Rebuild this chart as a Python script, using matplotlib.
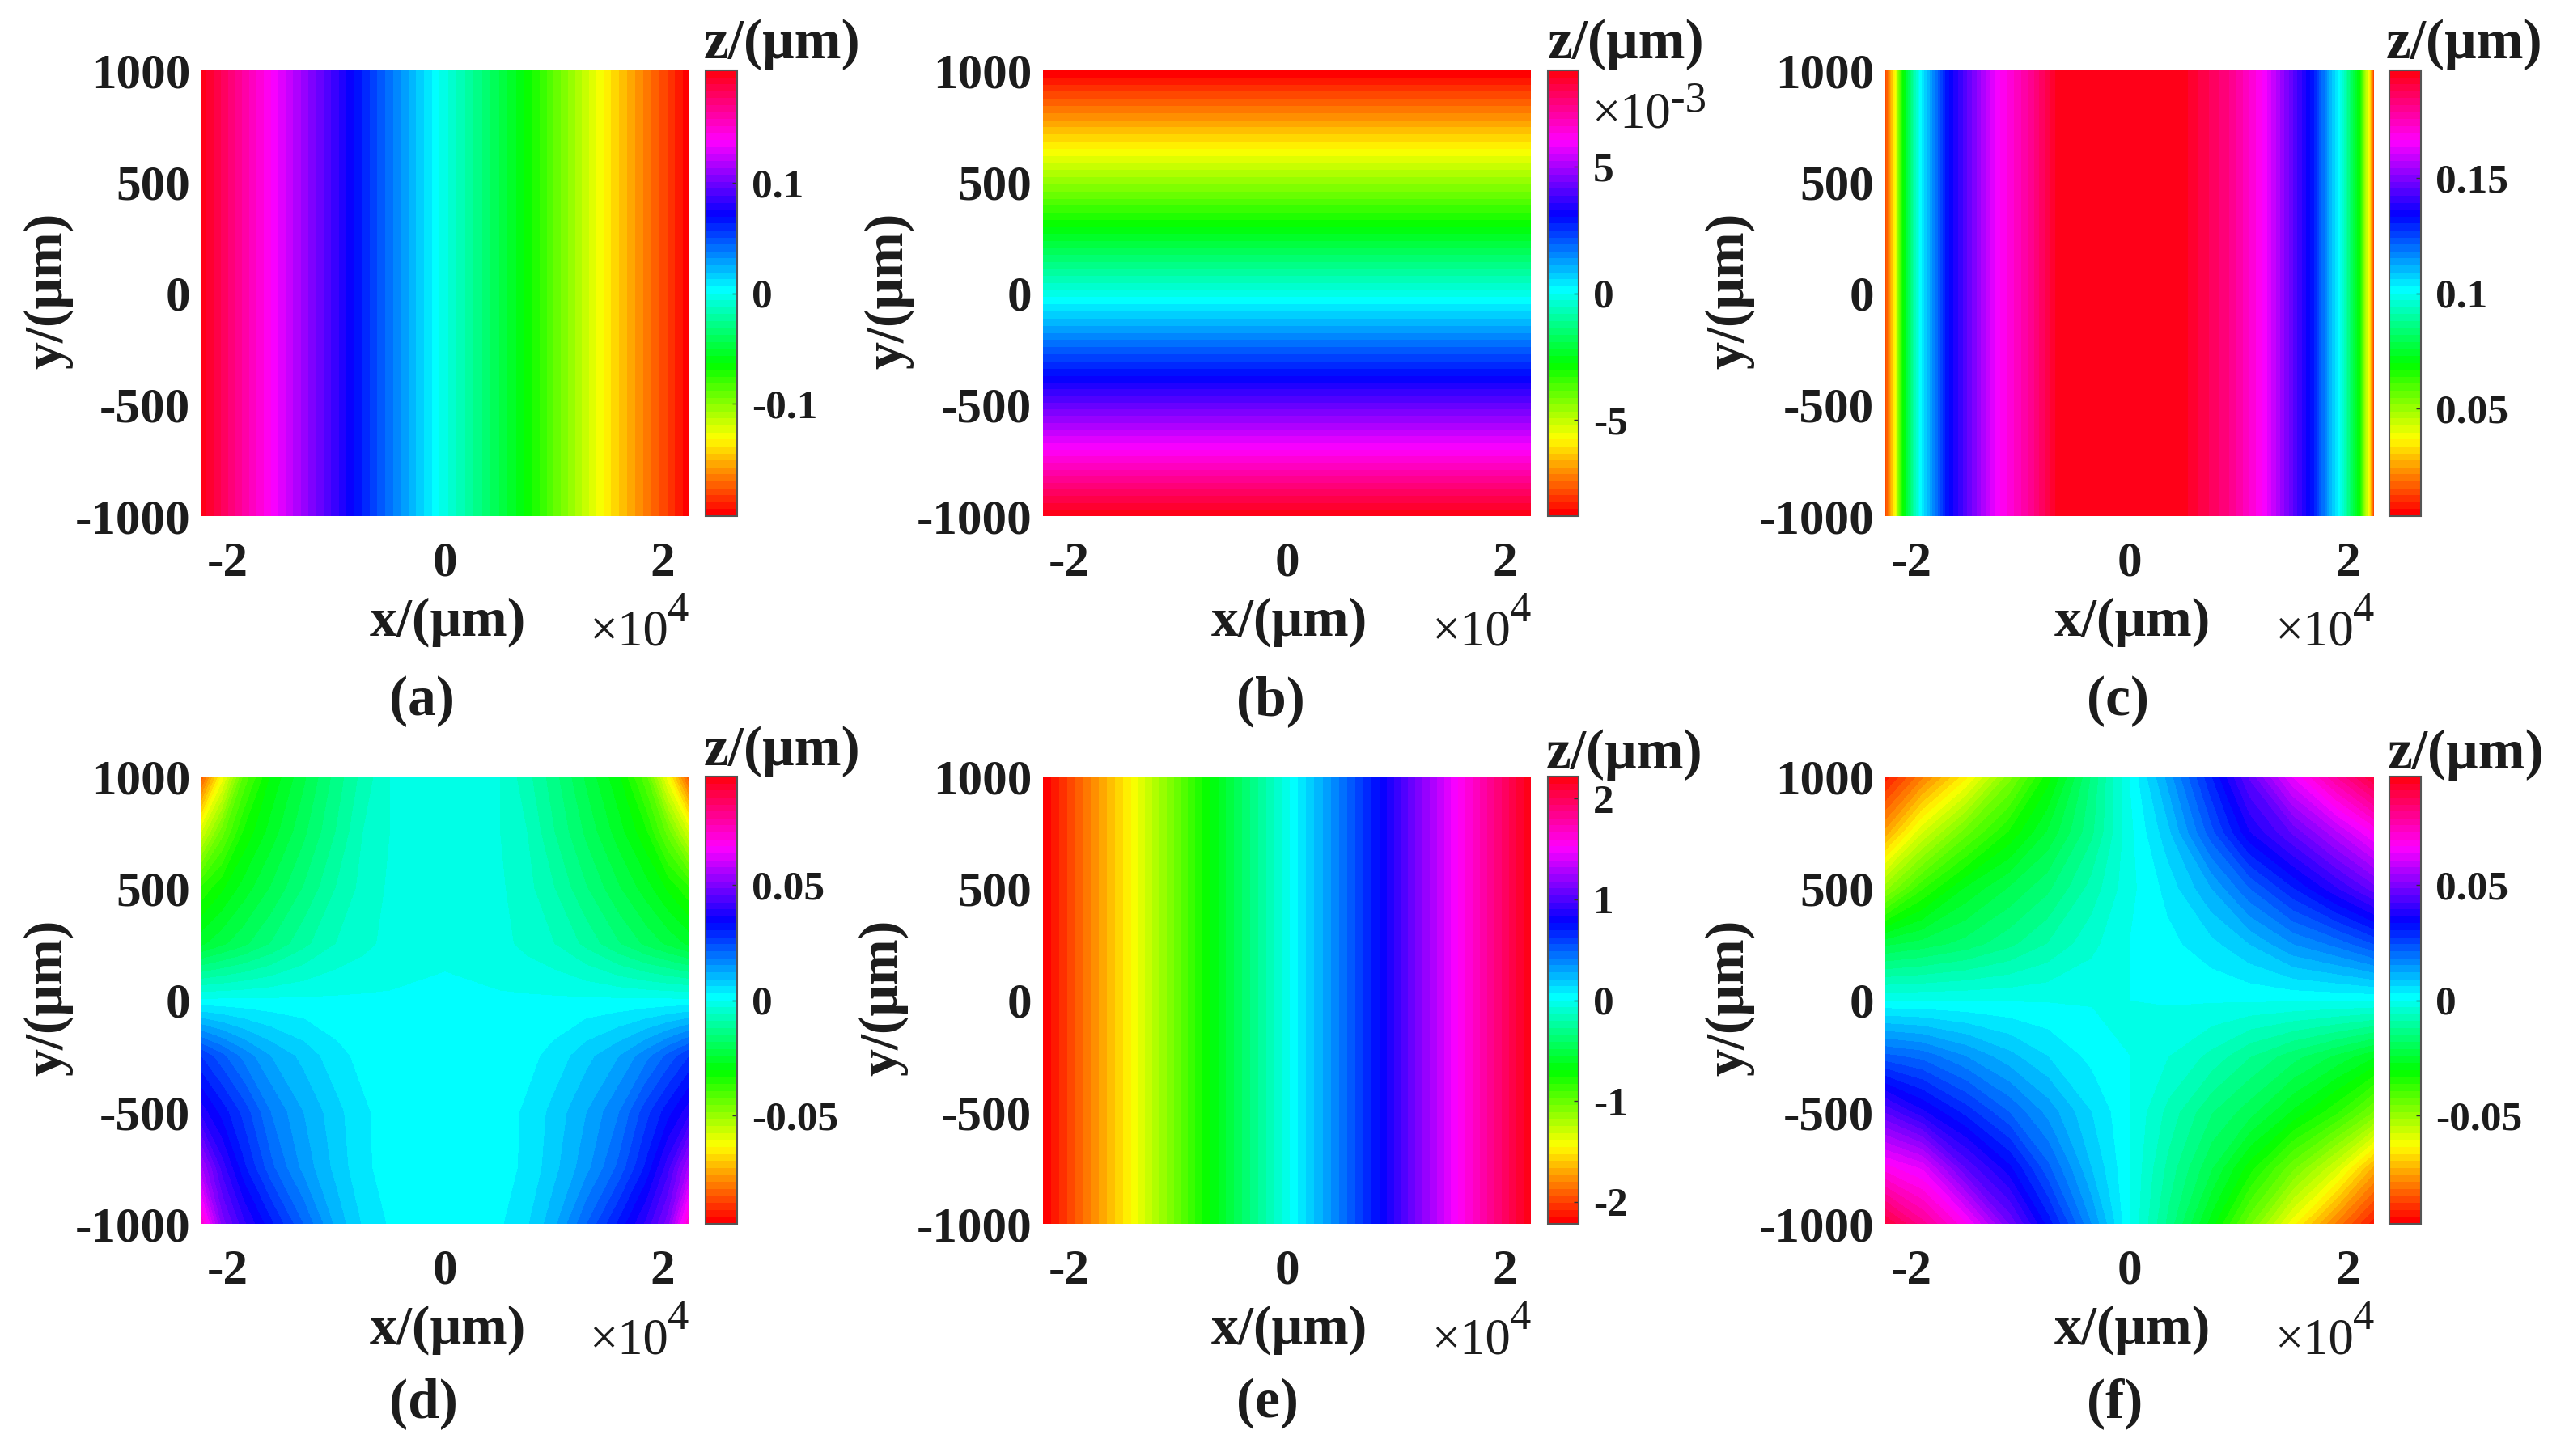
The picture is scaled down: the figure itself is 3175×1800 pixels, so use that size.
#!/usr/bin/env python
import matplotlib
matplotlib.use('Agg')
import matplotlib.pyplot as plt
import numpy as np

plt.rcParams['font.family'] = ['Liberation Serif', 'DejaVu Serif']
plt.rcParams['axes.unicode_minus'] = False

W, H = 3175, 1800
INK = '#1c1c1c'

xa = [-22400, -15400, -8100, -500, 7800, 14600, 22400]
za = [0.2, 0.133, 0.067, 0.0, -0.067, -0.133, -0.2]

yb = [-1000, -683, -360, -17, 317, 660, 1000]
zb = [8.8, 5.87, 2.93, 0.0, -2.93, -5.87, -8.8]

xc = [-22400, -21570, -20800, -19300, -16750, -12180, -8900, -6850, 0,
      5330, 9400, 12440, 16750, 19300, 21070, 21980, 22400]
zc = [0.0127, 0.035, 0.068, 0.1, 0.132, 0.165, 0.181, 0.194, 0.197,
      0.194, 0.181, 0.165, 0.132, 0.1, 0.068, 0.035, 0.0127]

xe = [-22400, -14550, -7530, 260, 8300, 15300, 22400]
ze = [-2.22, -1.48, -0.74, 0.0, 0.74, 1.48, 2.22]

ygrid = [1000, 750, 500, 250, 0, -250, -500, -750, -1000]

xd = [-22400, -20500, -18500, -16000, -13000, -10000, -7500, -5000, 0,
      5000, 7500, 10000, 13000, 16000, 18500, 20500, 22400]
zd_left = [
    [-0.085, -0.063, -0.042, -0.030, -0.022, -0.014, -0.008, -0.003, -0.001],
    [-0.058, -0.044, -0.033, -0.026, -0.019, -0.012, -0.006, -0.003, -0.001],
    [-0.036, -0.031, -0.026, -0.021, -0.015, -0.009, -0.005, -0.0025, -0.001],
    [-0.025, -0.022, -0.019, -0.015, -0.010, -0.006, -0.004, -0.002, -0.001],
    [0.0005, 0.0005, 0.0005, 0.0005, 0.0005, 0.0005, 0.0005, 0.0004, 0.001],
    [0.027, 0.022, 0.017, 0.012, 0.008, 0.004, 0.002, 0.001, 0.0005],
    [0.038, 0.032, 0.026, 0.018, 0.012, 0.007, 0.0035, 0.0015, 0.0005],
    [0.055, 0.041, 0.031, 0.022, 0.014, 0.008, 0.0035, 0.002, 0.0005],
    [0.072, 0.050, 0.040, 0.031, 0.021, 0.011, 0.0055, 0.0025, 0.0005],
]

xf = [-22400, -19000, -15000, -11000, -7500, -3500, 0,
      3500, 7500, 11000, 15000, 19000, 22400]
zf = [
    [-0.093, -0.080, -0.065, -0.047, -0.032, -0.015, 0.000, 0.013, 0.030, 0.046, 0.064, 0.079, 0.091],
    [-0.075, -0.058, -0.044, -0.033, -0.024, -0.013, -0.001, 0.008, 0.023, 0.036, 0.046, 0.057, 0.067],
    [-0.050, -0.037, -0.027, -0.021, -0.016, -0.008, -0.001, 0.004, 0.012, 0.021, 0.030, 0.039, 0.047],
    [-0.022, -0.020, -0.017, -0.013, -0.009, -0.004, 0.000, 0.002, 0.005, 0.009, 0.015, 0.019, 0.024],
    [-0.0003, -0.0003, -0.0003, -0.0003, -0.0003, -0.0003, 0.000, 0.0003, 0.0003, 0.0003, 0.0003, 0.0003, 0.0003],
    [0.022, 0.020, 0.015, 0.010, 0.006, 0.002, 0.000, -0.003, -0.007, -0.012, -0.017, -0.022, -0.027],
    [0.045, 0.037, 0.029, 0.021, 0.014, 0.006, 0.000, -0.007, -0.015, -0.020, -0.028, -0.036, -0.046],
    [0.068, 0.063, 0.045, 0.034, 0.022, 0.009, 0.000, -0.010, -0.021, -0.032, -0.045, -0.058, -0.074],
    [0.091, 0.080, 0.067, 0.048, 0.032, 0.015, 0.000, -0.013, -0.029, -0.045, -0.063, -0.080, -0.093],
]

xticks = [-20000, 0, 20000]
xticklabels = ['-2', '0', '2']
yticks = [-1000, -500, 0, 500, 1000]
yticklabels = ['-1000', '-500', '0', '500', '1000']

cb_ranges = [(-0.202, 0.202), (-8.8, 8.8), (0.003, 0.197),
             (-0.097, 0.097), (-2.22, 2.22), (-0.097, 0.097)]
cb_ticks = [[-0.1, 0, 0.1], [-5, 0, 5], [0.05, 0.1, 0.15],
            [-0.05, 0, 0.05], [-2, -1, 0, 1, 2], [-0.05, 0, 0.05]]
cb_labels = [['-0.1', '0', '0.1'], ['-5', '0', '5'], ['0.05', '0.1', '0.15'],
             ['-0.05', '0', '0.05'], ['-2', '-1', '0', '1', '2'], ['-0.05', '0', '0.05']]
letters = ['(a)', '(b)', '(c)', '(d)', '(e)', '(f)']

# pixel layout of the panels: axes left/right, colorbar left/right, top/bottom
ax_left = [249, 1289, 2330, 249, 1289, 2330]
ax_right = [851, 1892, 2934, 851, 1892, 2934]
cb_left = [872, 1913, 2953, 872, 1913, 2953]
cb_right = [911, 1951, 2992, 911, 1951, 2992]
tops = [87, 87, 87, 960, 960, 960]
bottoms = [638, 638, 638, 1513, 1513, 1513]
ylabel_x = [60, 1099, 2138, 60, 1092, 2138]
zlabel_x = [967, 2009, 3046, 967, 2008, 3047]
zlabel_y = [55, 55, 55, 929, 933, 933]
letter_x = [521, 1570, 2618, 523, 1566, 2614]
letter_y = [867, 867, 867, 1735, 1735, 1735]

fig = plt.figure(figsize=(W / 100, H / 100), dpi=100)
cmap = plt.get_cmap('hsv', 64)


def px_axes(l, r, t, b):
    return fig.add_axes([l / W, 1 - b / H, (r - l) / W, (b - t) / H])


def px_text(x, y, s, size=49, weight='bold', **kw):
    kw.setdefault('ha', 'center')
    kw.setdefault('va', 'center')
    fig.text(x / W, 1 - y / H, s, fontsize=size, fontweight=weight, color=INK, **kw)


def columns(x, z):
    return np.array(x), np.array([-1000, 1000]), np.array([z, z])


def rows(y, z):
    return np.array([-22400, 22400]), np.array(y), np.array([z, z]).T


def mirrored(left):
    return [row + row[-2::-1] for row in left]


fields = [
    columns(xa, za),
    rows(yb, zb),
    columns(xc, zc),
    (np.array(xd), np.array(ygrid), np.array(mirrored(zd_left))),
    columns(xe, ze),
    (np.array(xf), np.array(ygrid), np.array(zf)),
]

for i, (x, y, z) in enumerate(fields):
    ax = px_axes(ax_left[i], ax_right[i], tops[i], bottoms[i])
    vmin, vmax = cb_ranges[i]
    levels = np.linspace(vmin, vmax, 65)
    cs = ax.contourf(x, y, z, levels=levels, cmap=cmap, vmin=vmin, vmax=vmax)
    ax.set_xlim(-22400, 22400)
    ax.set_ylim(-1000, 1000)
    ax.set_xticks(xticks, xticklabels)
    ax.set_yticks(yticks, yticklabels)
    ax.tick_params(length=0, labelsize=44, labelcolor=INK)
    ax.tick_params(axis='x', pad=22)
    ax.tick_params(axis='y', pad=10)
    for lab in ax.get_xticklabels() + ax.get_yticklabels():
        lab.set_fontweight('bold')
    for s in ax.spines.values():
        s.set_visible(False)

    cax = px_axes(cb_left[i], cb_right[i], tops[i], bottoms[i])
    cb = fig.colorbar(cs, cax=cax)
    cb.set_ticks(cb_ticks[i], labels=cb_labels[i])
    cb.outline.set_edgecolor('#555555')
    cb.outline.set_linewidth(1.5)
    cax.tick_params(direction='in', length=4, width=1, color='#333333',
                    pad=13, labelsize=37, labelcolor=INK)
    for lab in cax.get_yticklabels():
        lab.set_fontweight('bold')

    mid = (tops[i] + bottoms[i]) / 2
    px_text(ylabel_x[i], mid - 3, 'y/(μm)', rotation=90)
    px_text((ax_left[i] + ax_right[i]) / 2 + 3, bottoms[i] + 131, 'x/(μm)')
    px_text(ax_right[i] - 25, bottoms[i] + 160, '×10', size=45, weight='normal',
            ha='right', va='baseline')
    px_text(ax_right[i], bottoms[i] + 117, '4', size=38, weight='normal', ha='right')
    px_text(zlabel_x[i], zlabel_y[i], 'z/(μm)', size=50)
    px_text(letter_x[i], letter_y[i], letters[i], size=50)

px_text(2065, 158, '×10', size=45, weight='normal', ha='right', va='baseline')
px_text(2065, 124, '-3', size=38, weight='normal', ha='left')

fig.savefig('out.png', dpi=100)
